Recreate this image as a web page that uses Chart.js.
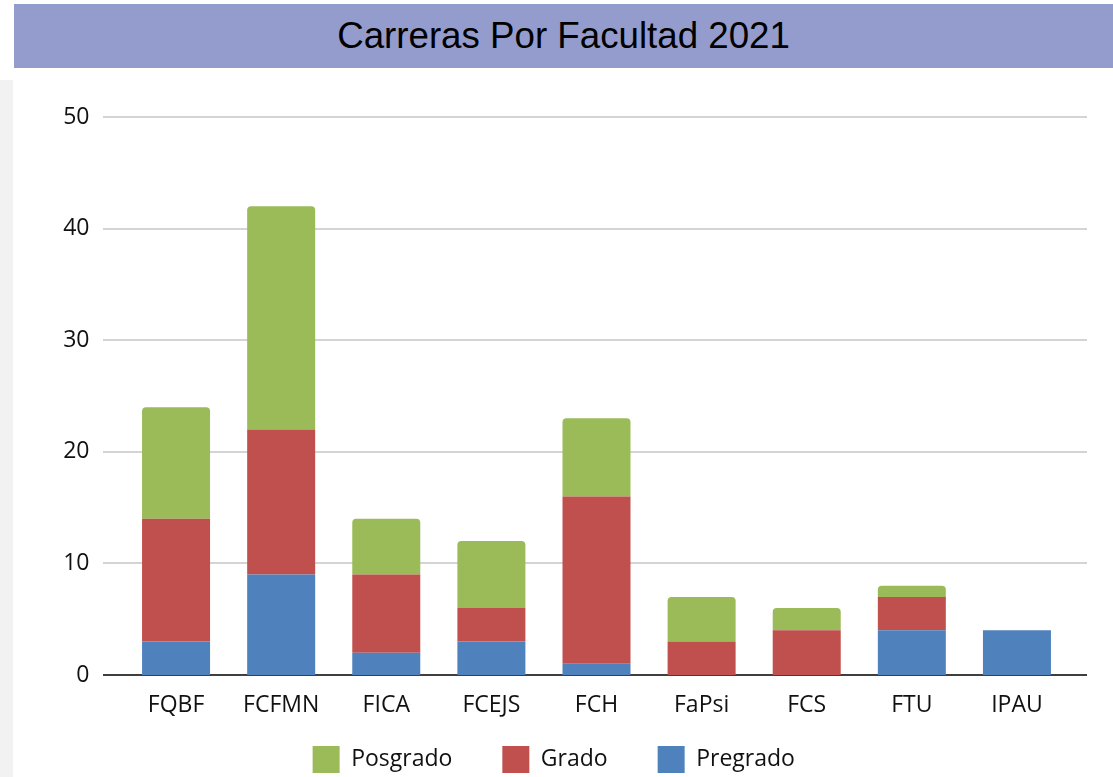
<!DOCTYPE html>
<html lang="es">
<head>
<meta charset="UTF-8">
<title>Carreras Por Facultad 2021</title>
<script src="https://cdn.jsdelivr.net/npm/chart.js@4.4.0/dist/chart.umd.min.js"></script>
<style>
  html, body { margin: 0; padding: 0; background: #fff; overflow: hidden; }
  body { width: 1113px; height: 777px; position: relative; }
  #franja { position: absolute; left: 0; top: 80px; width: 13px; height: 697px; background: #f2f2f2; }
  #titulo {
    position: absolute; left: 14px; top: 4px; width: 1099px; height: 64px;
    background: #949ccd; color: #000;
    font-family: 'Liberation Sans', Arial, sans-serif; font-size: 36.7px;
    line-height: 64px; text-align: center;
  }
  #caja { position: absolute; left: 14px; top: 68px; width: 1099px; height: 744px; }
</style>
</head>
<body>
<div id="franja"></div>
<div id="titulo">Carreras Por Facultad 2021</div>
<div id="caja"><canvas id="carrerasChart"></canvas></div>

<script>
// Datos
const facultades = ['FQBF', 'FCFMN', 'FICA', 'FCEJS', 'FCH', 'FaPsi', 'FCS', 'FTU', 'IPAU'];
const pregrado = [3, 9, 2, 3, 1, 0, 0, 4, 4];
const grado = [11, 13, 7, 3, 15, 3, 4, 3, 0];
const posgrado = [10, 20, 5, 6, 7, 4, 2, 1, 0];
const ticksY = [0, 10, 20, 30, 40, 50];

const fuente = "'Open Sans', sans-serif";

// Líneas de la grilla, un poco más largas que el área de las barras
const grillaExtendida = {
  id: 'grillaExtendida',
  beforeDatasetsDraw(chart) {
    const ctx = chart.ctx;
    const y = chart.scales.y;
    const x0 = 89;
    const x1 = 1073;
    ctx.save();
    ticksY.forEach(v => {
      const py = Math.round(y.getPixelForValue(v));
      ctx.beginPath();
      ctx.moveTo(x0, py);
      ctx.lineTo(x1, py);
      ctx.lineWidth = 2;
      ctx.strokeStyle = v === 0 ? '#3f3f3f' : '#d4d4d4';
      ctx.stroke();
    });
    ctx.restore();
  }
};

// Sube la leyenda para dejarla justo debajo de las etiquetas
const moverLeyenda = {
  id: 'moverLeyenda',
  afterLayout(chart) {
    const ley = chart.legend;
    const dy = 628 - ley.top;
    ley.top += dy;
    ley.bottom += dy;
    ley.left += 12;
    ley.right += 12;
  }
};

const ctx = document.getElementById('carrerasChart').getContext('2d');
new Chart(ctx, {
  type: 'bar',
  data: {
    labels: facultades,
    datasets: [
      {
        label: 'Pregrado',
        data: pregrado,
        backgroundColor: '#4f81bd',
        barPercentage: 0.647,
        categoryPercentage: 1
      },
      {
        label: 'Grado',
        data: grado,
        backgroundColor: '#c0504d',
        barPercentage: 0.647,
        categoryPercentage: 1
      },
      {
        label: 'Posgrado',
        data: posgrado,
        backgroundColor: '#9bbb59',
        borderRadius: { topLeft: 4, topRight: 4, bottomLeft: 0, bottomRight: 0 },
        borderSkipped: false,
        barPercentage: 0.647,
        categoryPercentage: 1
      }
    ]
  },
  plugins: [grillaExtendida, moverLeyenda],
  options: {
    responsive: true,
    maintainAspectRatio: false,
    animation: false,
    layout: {
      padding: { top: 49, right: 43.5, bottom: 0, left: 0 }
    },
    scales: {
      x: {
        stacked: true,
        grid: { display: false, drawTicks: false },
        border: { display: false },
        ticks: {
          color: '#111',
          padding: 17,
          font: { family: fuente, size: 23 }
        },
        afterFit(scale) { scale.height = 50; }
      },
      y: {
        stacked: true,
        min: 0,
        max: 50,
        afterBuildTicks(scale) { scale.ticks = ticksY.map(v => ({ value: v })); },
        grid: { display: false, drawTicks: false },
        border: { display: false },
        ticks: {
          color: '#111',
          padding: 34,
          font: { family: fuente, size: 23 }
        },
        afterFit(scale) { scale.width = 109.5; }
      }
    },
    plugins: {
      legend: {
        position: 'bottom',
        reverse: true,
        labels: {
          color: '#111',
          boxWidth: 27,
          boxHeight: 27,
          padding: 50,
          font: { family: fuente, size: 23 }
        }
      },
      tooltip: { enabled: false }
    }
  }
});
</script>
</body>
</html>
